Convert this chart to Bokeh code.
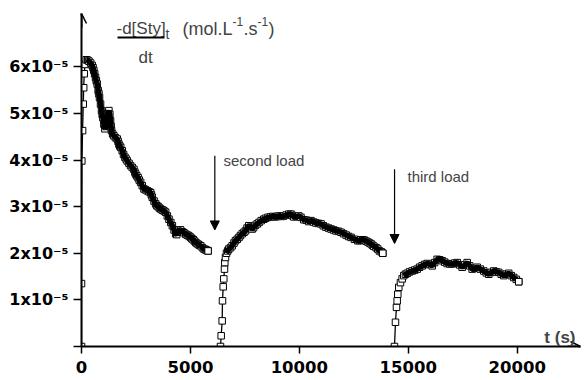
import numpy as np
from bokeh.plotting import figure
from bokeh.models import Range1d, FixedTicker, Arrow, OpenHead, NormalHead, Label
from bokeh.embed import file_html
from bokeh.resources import INLINE

UNIT = 1e-5  # y values below are in units of 1e-5 mol.L-1.s-1

seg1_t = [0, 0, 15, 50, 80, 100, 125, 160, 220, 290, 340, 420, 490, 530, 567, 605, 644, 680, 720, 766, 800, 828, 874, 920, 950, 981, 1027, 1073, 1130, 1180, 1220, 1257, 1300, 1334, 1360, 1380, 1430, 1487, 1560, 1640, 1680, 1717, 1760, 1800, 1870, 1930, 1993, 2050, 2100, 2180, 2254, 2330, 2407, 2450, 2484, 2540, 2600, 2650, 2714, 2790, 2867, 2940, 3021, 3100, 3174, 3210, 3250, 3330, 3404, 3460, 3520, 3580, 3634, 3700, 3750, 3810, 3864, 3940, 4017, 4100, 4171, 4250, 4324, 4370, 4420, 4477, 4550, 4631, 4700, 4784, 4850, 4900, 4960, 5014, 5070, 5130, 5190, 5244, 5300, 5360, 5420, 5474, 5550, 5627, 5680, 5720, 5770, 5811]
seg1_y = [0, 1.35, 3.98, 4.63, 5.2, 5.55, 5.85, 6.05, 6.15, 6.14, 6.12, 6.08, 6.03, 5.98, 5.92, 5.85, 5.77, 5.7, 5.63, 5.49, 5.42, 5.34, 5.2, 5.06, 4.98, 4.91, 4.77, 4.67, 4.72, 4.85, 5.0, 5.06, 4.98, 4.84, 4.72, 4.63, 4.56, 4.52, 4.48, 4.45, 4.4, 4.34, 4.3, 4.27, 4.2, 4.12, 4.06, 4.02, 3.98, 3.93, 3.88, 3.84, 3.8, 3.74, 3.7, 3.66, 3.62, 3.57, 3.52, 3.45, 3.38, 3.36, 3.34, 3.32, 3.3, 3.25, 3.2, 3.12, 3.06, 3.02, 3.0, 2.97, 2.95, 2.93, 2.92, 2.9, 2.88, 2.8, 2.73, 2.66, 2.59, 2.5, 2.42, 2.4, 2.45, 2.5, 2.5, 2.46, 2.44, 2.41, 2.39, 2.38, 2.36, 2.34, 2.31, 2.29, 2.26, 2.23, 2.21, 2.19, 2.17, 2.16, 2.12, 2.09, 2.08, 2.07, 2.06, 2.05]

seg2_t = [6380, 6412, 6458, 6472, 6504, 6532, 6564, 6578, 6610, 6656, 6710, 6761, 6840, 6917, 7000, 7069, 7150, 7230, 7298, 7380, 7460, 7528, 7600, 7679, 7760, 7835, 7900, 7980, 8065, 8150, 8250, 8368, 8450, 8560, 8675, 8780, 8880, 8983, 9080, 9180, 9286, 9400, 9516, 9614, 9680, 9746, 9860, 9975, 10074, 10204, 10320, 10433, 10534, 10650, 10760, 10880, 10994, 11100, 11220, 11340, 11454, 11570, 11680, 11800, 11914, 12030, 12150, 12260, 12374, 12530, 12681, 12760, 12840, 12910, 12987, 13070, 13150, 13220, 13294, 13360, 13420, 13524, 13600, 13677, 13760, 13831]
seg2_y = [0, 0.23, 0.55, 0.98, 1.28, 1.45, 1.66, 1.8, 1.91, 2.0, 2.05, 2.09, 2.12, 2.16, 2.22, 2.27, 2.3, 2.34, 2.38, 2.42, 2.45, 2.48, 2.54, 2.59, 2.56, 2.52, 2.55, 2.6, 2.63, 2.66, 2.7, 2.73, 2.75, 2.77, 2.78, 2.79, 2.78, 2.79, 2.8, 2.79, 2.8, 2.82, 2.84, 2.84, 2.81, 2.78, 2.79, 2.8, 2.77, 2.72, 2.71, 2.68, 2.7, 2.67, 2.65, 2.64, 2.63, 2.59, 2.56, 2.54, 2.52, 2.5, 2.48, 2.47, 2.45, 2.42, 2.39, 2.36, 2.34, 2.3, 2.27, 2.27, 2.29, 2.29, 2.28, 2.26, 2.24, 2.22, 2.2, 2.17, 2.15, 2.12, 2.09, 2.05, 2.03, 2.0]

seg3_t = [14367, 14413, 14459, 14491, 14519, 14565, 14642, 14720, 14794, 14870, 14950, 15060, 15179, 15300, 15409, 15520, 15638, 15750, 15868, 15980, 16097, 16210, 16327, 16440, 16556, 16670, 16786, 16900, 17015, 17130, 17245, 17360, 17474, 17590, 17704, 17820, 17933, 18050, 18163, 18310, 18466, 18580, 18695, 18810, 18925, 19040, 19154, 19270, 19384, 19500, 19613, 19730, 19843, 19960, 20072]
seg3_y = [0, 0.52, 0.84, 0.98, 1.12, 1.27, 1.37, 1.45, 1.52, 1.55, 1.57, 1.6, 1.62, 1.64, 1.66, 1.7, 1.73, 1.76, 1.78, 1.76, 1.73, 1.8, 1.87, 1.86, 1.84, 1.81, 1.78, 1.77, 1.77, 1.79, 1.8, 1.75, 1.7, 1.75, 1.8, 1.73, 1.66, 1.68, 1.7, 1.66, 1.62, 1.58, 1.55, 1.59, 1.62, 1.6, 1.59, 1.55, 1.52, 1.55, 1.57, 1.52, 1.48, 1.44, 1.39]

# index where each segment's densely sampled part begins
dense_start = [8, 9, 8]

x_ticks = [0, 5000, 10000, 15000, 20000]
x_tick_labels = ["0", "5000", "10000", "15000", "20000"]
y_ticks = [0, 1, 2, 3, 4, 5, 6]
y_tick_labels = ["", "1x10\u207b\u2075", "2x10\u207b\u2075", "3x10\u207b\u2075", "4x10\u207b\u2075",
                 "5x10\u207b\u2075", "6x10\u207b\u2075"]

load_t = [6120, 14370]
load_top = [4.09, 3.80]
load_tip = [2.50, 2.21]
load_text = ["second load", "third load"]

X_START, X_END = 0, 22906
Y_START, Y_END = 0, 7.143 * UNIT

W, H = 587, 380
FL, FR, FT, FB = 81, 580, 13, 346  # frame edges in canvas px


def cx(px):
    return X_START + (px - FL) / (FR - FL) * (X_END - X_START)


def cy(py):
    return Y_START + (FB - py) / (FB - FT) * (Y_END - Y_START)


p = figure(width=W, height=H, x_range=Range1d(X_START, X_END), y_range=Range1d(Y_START, Y_END),
           output_backend="svg", toolbar_location=None,
           min_border_left=FL, min_border_right=W - FR, min_border_top=FT, min_border_bottom=H - FB)
p.outline_line_color = None
p.grid.visible = False
p.background_fill_color = "white"
p.border_fill_color = "white"

for ax in (p.xaxis[0], p.yaxis[0]):
    ax.axis_line_width = 2
    ax.axis_line_color = "black"
    ax.major_tick_in = 0
    ax.minor_tick_in = 0
    ax.minor_tick_out = 0
    ax.major_tick_line_width = 1.5
    ax.major_label_text_font = "DejaVu Sans"
    ax.major_label_text_font_style = "bold"
    ax.major_label_text_color = "black"

y_vals = [v * UNIT for v in y_ticks]
p.xaxis.ticker = FixedTicker(ticks=x_ticks)
p.xaxis.major_tick_out = 7
p.xaxis.major_label_standoff = 7
p.xaxis.major_label_text_font_size = "16.5px"
p.xaxis.major_label_overrides = dict(zip(x_ticks, x_tick_labels))
p.yaxis.ticker = FixedTicker(ticks=y_vals)
p.yaxis.major_tick_out = 8
p.yaxis.major_label_standoff = 5
p.yaxis.major_label_text_font_size = "16px"
p.yaxis.major_label_overrides = dict(zip(y_vals, y_tick_labels))

# axis arrow heads
p.add_layout(Arrow(end=OpenHead(size=10, line_width=1.5, line_color="black"), line_width=2,
                   x_start=0, y_start=Y_END - 0.3 * UNIT, x_end=0, y_end=Y_END))
p.add_layout(Arrow(end=OpenHead(size=10, line_width=1.5, line_color="black"), line_width=2,
                   x_start=X_END - 600, y_start=0, x_end=X_END, y_end=0))

segs = [(seg1_t, seg1_y), (seg2_t, seg2_y), (seg3_t, seg3_y)]
for (ts, ys), k in zip(segs, dense_start):
    yy = [v * UNIT for v in ys]
    p.line(ts, yy, line_color="black", line_width=1.3)
    p.scatter(ts, yy, marker="square", size=6.5, fill_color="white", line_color="black", line_width=1)
    p.line(ts[k:], yy[k:], line_color="black", line_width=5.5)
    p.scatter(ts[-1:], yy[-1:], marker="square", size=6.5, fill_color="white", line_color="black", line_width=1)

# load arrows
for t0, top, tip in zip(load_t, load_top, load_tip):
    p.add_layout(Arrow(end=NormalHead(size=9, fill_color="black", line_color="black"), line_width=1.2,
                       x_start=t0, y_start=top * UNIT, x_end=t0, y_end=tip * UNIT))
p.add_layout(Label(x=cx(223), y=cy(160), text=load_text[0], text_font="Liberation Sans",
                   text_font_size="15px", text_baseline="alphabetic"))
p.add_layout(Label(x=cx(407), y=cy(176), text=load_text[1], text_font="Liberation Sans",
                   text_font_size="15px", text_baseline="alphabetic"))

# axis titles
p.add_layout(Label(x=cx(575), y=cy(337), text="t (s)", text_font="Liberation Sans", text_font_style="bold",
                   text_font_size="17px", text_baseline="alphabetic", text_align="right"))
title_parts = [
    (116, 28, "-d[Sty]", "17px"),
    (165, 33, "t", "14px"),
    (138, 57, "dt", "17px"),
    (182, 28, "(mol.L", "18px"),
    (232, 21, "-1", "12px"),
    (243, 28, ".s", "18px"),
    (257, 21, "-1", "12px"),
    (268, 28, ")", "18px"),
]
for px, py, txt, fs in title_parts:
    p.add_layout(Label(x=cx(px), y=cy(py), text=txt, text_font="Liberation Sans", text_font_size=fs,
                       text_baseline="alphabetic"))
p.add_layout(Arrow(end=None, line_width=1.8, x_start=cx(117), y_start=cy(37), x_end=cx(164), y_end=cy(37)))

open("out.html", "w").write(file_html(p, INLINE))
